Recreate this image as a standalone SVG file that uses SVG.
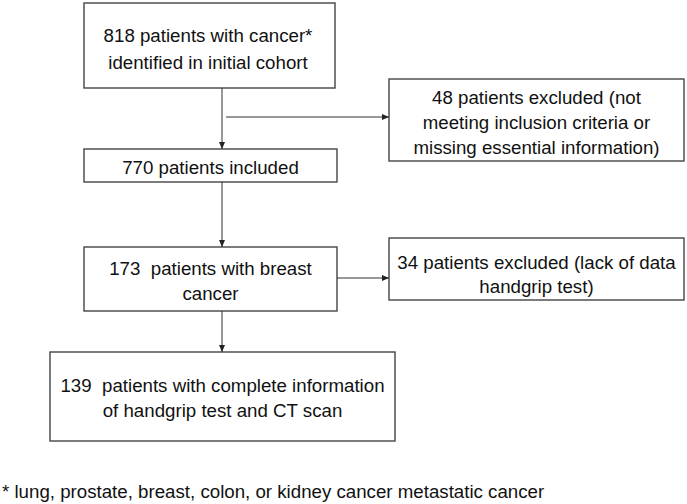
<svg xmlns="http://www.w3.org/2000/svg" width="687" height="504" viewBox="0 0 687 504">
<defs>
<marker id="ah" markerWidth="7" markerHeight="6" refX="7" refY="3" orient="auto" markerUnits="userSpaceOnUse">
<path d="M0,0 L7,3 L0,6 Z" fill="#222"/>
</marker>
<style>
.box{fill:#fff;stroke:#444;stroke-width:1.4}
.t{font-family:"Liberation Sans",Arial,sans-serif;font-size:18.7px;fill:#111;text-anchor:middle;dominant-baseline:central;white-space:pre}
.c{stroke:#333;stroke-width:1;fill:none;marker-end:url(#ah)}
</style>
</defs>
<rect width="687" height="504" fill="#fff"/>
<g id="n818">
<rect class="box" x="84" y="3" width="251" height="85"/>
<text class="t" x="208" y="35">818 patients with cancer*</text>
<text class="t" x="208" y="62">identified in initial cohort</text>
</g>
<g id="n48">
<rect class="box" x="389" y="79" width="295" height="82"/>
<text class="t" x="536.5" y="97">48 patients excluded (not</text>
<text class="t" x="536.5" y="122">meeting inclusion criteria or</text>
<text class="t" x="536.5" y="147">missing essential information)</text>
</g>
<g id="n770">
<rect class="box" x="84" y="149" width="253" height="33"/>
<text class="t" x="210.5" y="167">770 patients included</text>
</g>
<g id="n173">
<rect class="box" x="84" y="247" width="253" height="64"/>
<text class="t" x="210.5" y="268" xml:space="preserve">173  patients with breast</text>
<text class="t" x="210.5" y="293">cancer</text>
</g>
<g id="n34">
<rect class="box" x="389" y="238" width="295" height="62"/>
<text class="t" x="536.5" y="262">34 patients excluded (lack of data</text>
<text class="t" x="536.5" y="286">handgrip test)</text>
</g>
<g id="n139">
<rect class="box" x="50" y="352" width="345" height="89"/>
<text class="t" x="222.5" y="385" xml:space="preserve">139  patients with complete information</text>
<text class="t" x="222.5" y="410">of handgrip test and CT scan</text>
</g>
<g id="connectors">
<line class="c" x1="222" y1="88" x2="222" y2="149"/>
<line class="c" x1="226" y1="117" x2="389" y2="117"/>
<line class="c" x1="222" y1="182" x2="222" y2="247"/>
<line class="c" x1="337" y1="278" x2="389" y2="278"/>
<line class="c" x1="222" y1="311" x2="222" y2="352"/>
</g>
<text x="2" y="491" style="font-family:'Liberation Sans',Arial,sans-serif;font-size:18.7px;fill:#111;dominant-baseline:central">* lung, prostate, breast, colon, or kidney cancer metastatic cancer</text>
</svg>
